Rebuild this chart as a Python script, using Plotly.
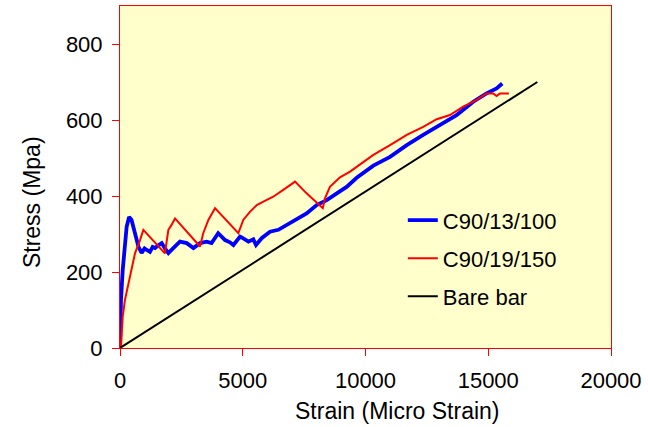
import plotly.graph_objects as go

# C90/13/100 (blue)
blue_x = [0, 20, 40, 110, 200, 270, 370, 470, 610, 750, 880, 1000, 1090, 1220, 1330, 1430, 1560, 1700,
          1830, 1970, 2170, 2440, 2720, 2990, 3260, 3530, 3730, 4000, 4280, 4480, 4620, 4890, 4960,
          5230, 5430, 5540, 5770, 6110, 6450, 6860, 7200, 7600, 8010, 8420, 8830, 9230, 9640,
          10320, 11000, 11680, 12350, 13030, 13710, 14390, 14930, 15340, 15570]
blue_y = [0, 60, 126, 205, 284, 319, 345, 337, 302, 267, 250, 262, 258, 253, 266, 263, 270, 276,
          262, 250, 263, 280, 276, 263, 276, 280, 276, 302, 284, 278, 271, 293, 291,
          280, 286, 271, 289, 306, 311, 326, 339, 354, 376, 389, 407, 424, 448,
          480, 503, 534, 561, 587, 613, 648, 670, 683, 696]

# C90/19/150 (red)
red_x = [0, 40, 70, 110, 200, 340, 470, 610, 815, 950, 1830, 1970, 2100, 2240, 3260, 3390, 3600,
         3870, 4820, 5020, 5300, 5570, 5840, 6240, 6650, 7130, 7600, 8260, 8350, 8550, 8960,
         9370, 9710, 10320, 11000, 11680, 12350, 12900, 13440, 13980, 14530, 14930, 15200,
         15340, 15480, 15840]
red_y = [0, 3, 39, 82, 126, 170, 214, 249, 284, 311, 249, 311, 324, 341, 267, 302, 337,
         368, 302, 337, 359, 376, 385, 398, 416, 438, 407, 368, 394, 424, 449,
         464, 480, 508, 534, 561, 582, 602, 613, 635, 653, 670, 670,
         663, 670, 670]

# Bare bar (black)
bare_x = [0, 17000]
bare_y = [0, 700]

x_ticks = [0, 5000, 10000, 15000, 20000]
y_ticks = [0, 200, 400, 600, 800]

fig = go.Figure()
fig.add_trace(go.Scatter(x=blue_x, y=blue_y, mode="lines", name="C90/13/100",
                         legendgroup="a", line=dict(color="#0000FF", width=3.8)))
fig.add_trace(go.Scatter(x=red_x, y=red_y, mode="lines", name="C90/19/150",
                         legendgroup="b", line=dict(color="#FF0000", width=2)))
fig.add_trace(go.Scatter(x=bare_x, y=bare_y, mode="lines", name="Bare bar",
                         legendgroup="c", line=dict(color="#000000", width=2)))

font = dict(family="Liberation Sans, Arial, sans-serif", size=22, color="black")
title_font = dict(family="Liberation Sans, Arial, sans-serif", size=23, color="black")

fig.update_layout(
    width=648, height=427,
    margin=dict(l=120, r=37, t=6, b=79),
    paper_bgcolor="white",
    plot_bgcolor="#FFFFCC",
    font=font,
    showlegend=True,
    legend=dict(x=0.576, y=0.435, xanchor="left", yanchor="top",
                bgcolor="rgba(0,0,0,0)", tracegroupgap=6.5, traceorder="grouped",
                font=font),
    xaxis=dict(range=[0, 20000], tickvals=x_ticks, ticktext=[str(v) for v in x_ticks],
               showgrid=False, zeroline=False, showline=True, linecolor="#FF0000",
               linewidth=1, mirror=True, ticks="outside", ticklen=7, tickcolor="#FF0000",
               ticklabelstandoff=6),
    yaxis=dict(range=[0, 900], tickvals=y_ticks, ticktext=[str(v) for v in y_ticks],
               showgrid=False, zeroline=False, showline=True, linecolor="#FF0000",
               linewidth=1, mirror=True, ticks="outside", ticklen=7, tickcolor="#FF0000",
               ticklabelstandoff=5),
    annotations=[
        dict(text="Strain (Micro Strain)", xref="paper", yref="paper", x=0.564, y=-0.184,
             xanchor="center", yanchor="middle", showarrow=False, font=title_font),
        dict(text="Stress (Mpa)", xref="paper", yref="paper", x=-0.179, y=0.427,
             xanchor="center", yanchor="middle", showarrow=False, textangle=-90,
             font=title_font),
    ],
)

fig.write_html("out.html")
